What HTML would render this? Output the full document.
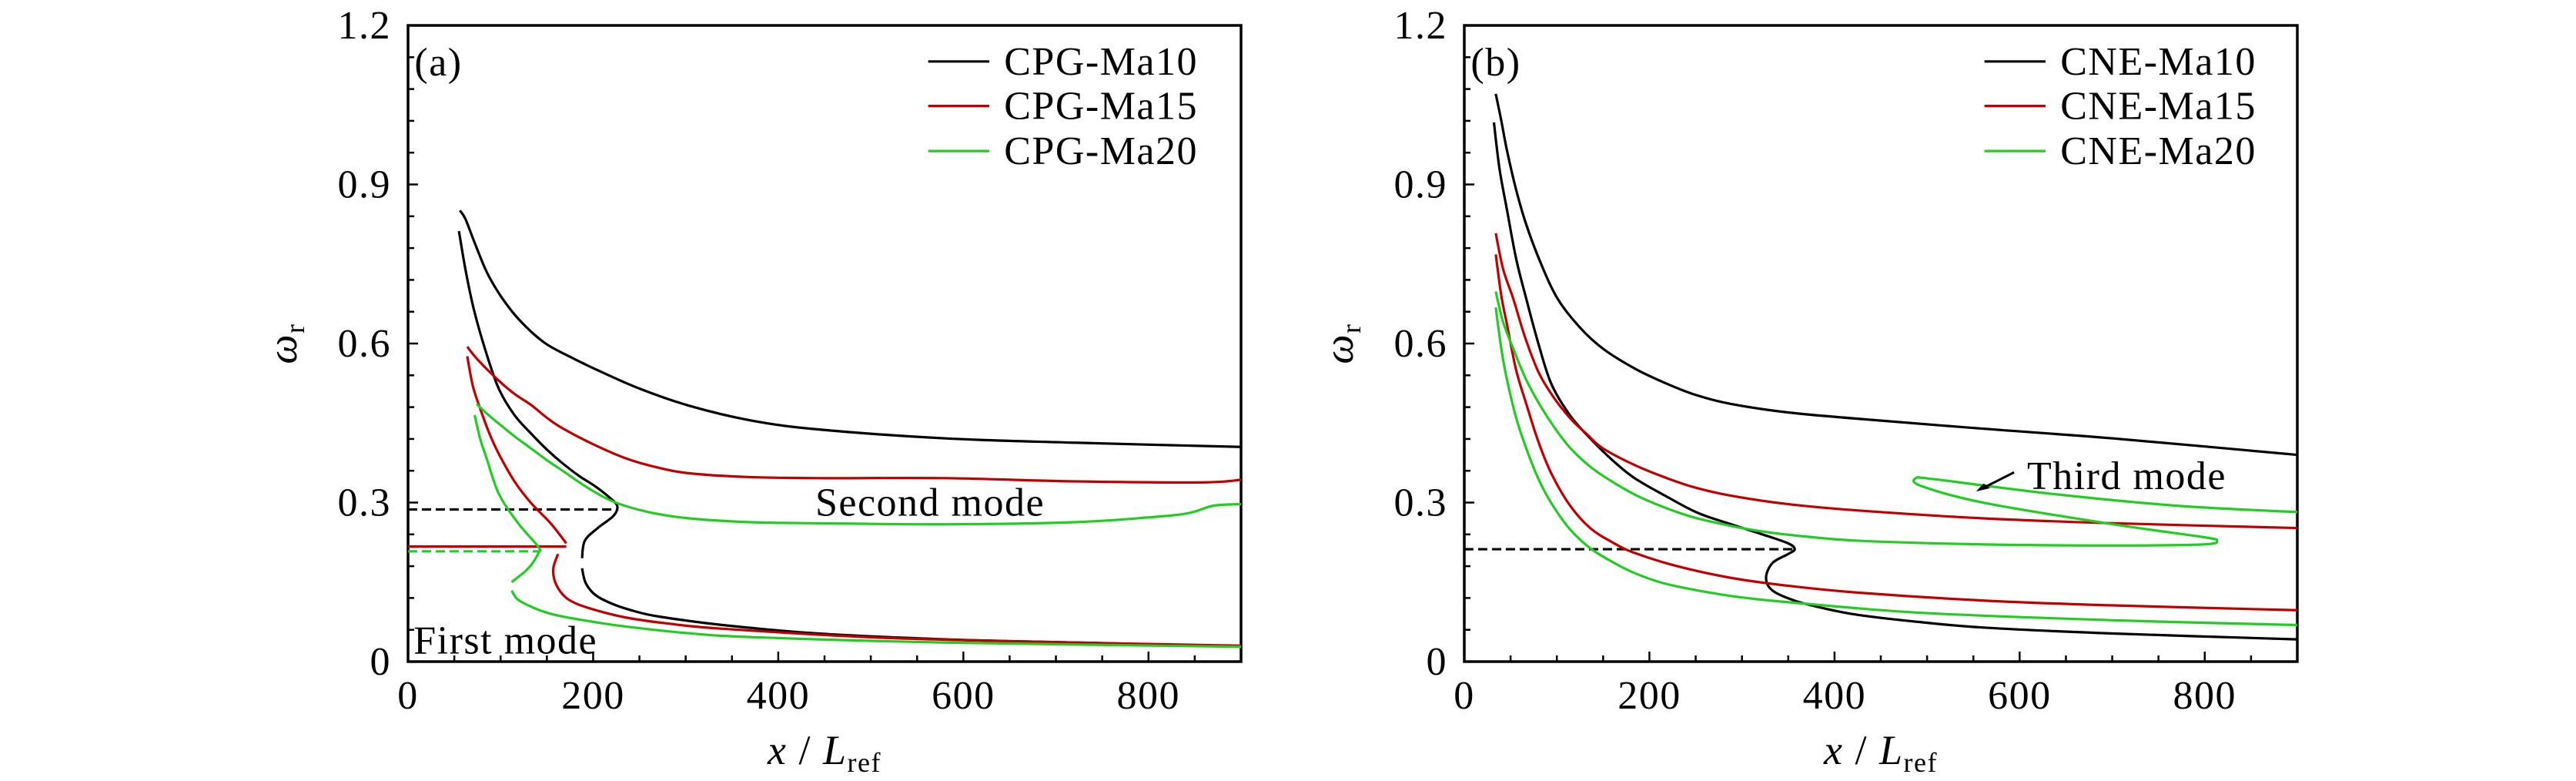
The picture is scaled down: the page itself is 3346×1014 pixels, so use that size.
<!DOCTYPE html>
<html><head><meta charset="utf-8">
<style>
html,body{margin:0;padding:0;background:#fff;}
svg{display:block;}
text{font-family:"Liberation Serif","DejaVu Serif",serif;fill:#000;letter-spacing:1.5px;}
</style></head>
<body>
<svg id="chart" width="3346" height="1014" viewBox="0 0 3346 1014" xmlns="http://www.w3.org/2000/svg"></svg>
<script>
// ---- data ----
const xTicks=[0,200,400,600,800];
const yTicks=[0,0.3,0.6,0.9,1.2];
const yTickLabels=["0","0.3","0.6","0.9","1.2"];
// panel a
const aMa10Up=[[56,0.851],[62,0.835],[72,0.79],[85,0.735],[100,0.69],[120,0.645],[147,0.602],[175,0.575],[202,0.552],[250,0.515],[305,0.482],[370,0.455],[443,0.438],[581,0.421],[719,0.413],[900,0.405]];
const aMa10Lo1=[[55,0.812],[62,0.74],[71,0.665],[84,0.585],[98,0.515],[115,0.465],[133,0.43],[150,0.4],[167,0.374],[185,0.35],[202,0.331],[216,0.312],[226,0.294],[222,0.275],[205,0.252],[191,0.228],[188,0.195]];
const aMa10Lo2=[[188,0.176],[192,0.148],[203,0.125],[222,0.108],[245,0.095],[271,0.085],[340,0.069],[443,0.053],[581,0.042],[719,0.036],[900,0.029]];
const aMa15Up=[[64,0.594],[75,0.57],[98,0.53],[115,0.505],[133,0.484],[150,0.46],[167,0.44],[200,0.41],[236,0.383],[270,0.366],[305,0.355],[370,0.348],[443,0.346],[581,0.346],[719,0.34],[857,0.338],[900,0.343]];
const aMa15Lo1=[[64,0.576],[70,0.52],[78,0.477],[88,0.43],[98,0.392],[115,0.34],[133,0.299],[154,0.261],[171,0.223]];
const aMa15Lo2=[[162,0.203],[157,0.176],[159,0.15],[168,0.125],[181,0.11],[205,0.096],[236,0.083],[280,0.072],[340,0.062],[512,0.045],[719,0.036],[900,0.03]];
const aMa20Up=[[74,0.486],[85,0.468],[98,0.449],[115,0.425],[133,0.402],[150,0.38],[167,0.36],[195,0.327],[223,0.301],[260,0.282],[305,0.27],[370,0.263],[443,0.261],[581,0.259],[719,0.263],[800,0.272],[843,0.28],[870,0.294],[900,0.297]];
const aMa20Lo1=[[72,0.465],[78,0.42],[85,0.383],[98,0.317],[119,0.261],[141,0.216],[141,0.205],[130,0.176],[112,0.15]];
const aMa20Lo2=[[112,0.134],[118,0.118],[130,0.106],[147,0.094],[167,0.085],[200,0.075],[236,0.066],[300,0.054],[374,0.046],[581,0.036],[900,0.028]];
const aDash10=[[0,0.287],[226,0.287]];
const aSolid15=[[0,0.217],[171,0.217]];
const aDash20=[[0,0.208],[141,0.208]];
// panel b
const bMa10Up=[[34,1.071],[40,1.02],[46,0.965],[56,0.89],[67,0.824],[83,0.75],[101,0.684],[125,0.63],[150,0.59],[185,0.552],[219,0.524],[250,0.503],[288,0.486],[350,0.47],[426,0.458],[563,0.439],[701,0.421],[900,0.39]];
const bMa10Lo=[[32,1.017],[38,0.93],[46,0.853],[56,0.76],[67,0.684],[80,0.6],[94,0.524],[114,0.465],[136,0.421],[160,0.38],[184,0.346],[220,0.31],[253,0.28],[290,0.258],[322,0.24],[350,0.223],[357,0.212],[350,0.203],[333,0.186],[326,0.158],[333,0.134],[357,0.115],[390,0.1],[426,0.088],[490,0.075],[563,0.064],[701,0.053],[900,0.042]];
const bMa15Up=[[34,0.808],[42,0.74],[53,0.684],[66,0.61],[81,0.543],[98,0.495],[115,0.458],[133,0.428],[150,0.402],[185,0.37],[219,0.346],[250,0.328],[288,0.313],[350,0.297],[426,0.285],[563,0.27],[701,0.261],[900,0.252]];
const bMa15Lo=[[34,0.768],[40,0.69],[46,0.637],[56,0.55],[67,0.486],[80,0.415],[94,0.355],[114,0.295],[136,0.252],[160,0.225],[184,0.205],[230,0.18],[288,0.158],[350,0.143],[426,0.13],[563,0.115],[701,0.106],[900,0.097]];
const bMa20Up=[[34,0.698],[42,0.64],[53,0.59],[66,0.535],[81,0.486],[98,0.44],[115,0.402],[138,0.365],[163,0.336],[190,0.31],[219,0.289],[250,0.271],[288,0.256],[320,0.246],[357,0.238],[426,0.228],[563,0.221],[701,0.219],[798,0.221],[813,0.228],[798,0.235],[701,0.259],[563,0.299],[494,0.331],[488,0.346],[508,0.344],[632,0.317],[770,0.294],[900,0.282]];
const bMa20Lo=[[34,0.668],[40,0.59],[46,0.533],[56,0.46],[67,0.402],[80,0.345],[94,0.299],[114,0.25],[136,0.214],[160,0.188],[184,0.167],[215,0.148],[253,0.134],[300,0.121],[357,0.111],[494,0.092],[701,0.078],[900,0.069]];
const bDash10=[[0,0.212],[357,0.212]];

const NS="http://www.w3.org/2000/svg";
const svg=document.getElementById('chart');
const BLACK="#000",RED="#c00000",GREEN="#22cc22";
function mk(tag,attrs,parent){const e=document.createElementNS(NS,tag);for(const k in attrs)e.setAttribute(k,attrs[k]);(parent||svg).appendChild(e);return e;}

function panel(x0,id){
  const x1=x0+1082,y0=33,y1=859;
  const sx=v=>x0+v*(x1-x0)/900, sy=v=>y1-v*(y1-y0)/1.2;
  const g=mk('g',{});
  
  
  return {g,sx,sy,x0,x1,y0,y1};
}
function path(P,pts,color,name,dash){
  const p=pts.map(q=>[P.sx(q[0]),P.sy(q[1])]);
  let d='M'+p[0][0]+','+p[0][1];
  for(let i=0;i<p.length-1;i++){
    const a=p[Math.max(i-1,0)],b=p[i],c=p[i+1],e=p[Math.min(i+2,p.length-1)];
    const c1=[b[0]+(c[0]-a[0])/6,b[1]+(c[1]-a[1])/6],c2=[c[0]-(e[0]-b[0])/6,c[1]-(e[1]-b[1])/6];
    d+=' C'+c1[0]+','+c1[1]+' '+c2[0]+','+c2[1]+' '+c[0]+','+c[1];
  }
  const el=mk('path',{d:d,fill:'none',stroke:color,'stroke-width':3.2,'stroke-linejoin':'round'},P.g);
  if(dash)el.setAttribute('stroke-dasharray','12,6');
  
  
}
function axes(P,id,labels,pl){
  const {g,sx,sy,x0,x1,y0,y1}=P;
  const fr=mk('rect',{x:x0,y:y0,width:x1-x0,height:y1-y0,fill:'none',stroke:'#000','stroke-width':3.5},g);
  
  
  for(let v=0;v<=900;v+=50){const L=v%200===0?13:8;mk('line',{x1:sx(v),x2:sx(v),y1:y1,y2:y1-L,stroke:'#000','stroke-width':2.5},g);}
  for(let k=0;k<=20;k++){const v=k*0.06;const L=k%5===0?13:8;mk('line',{x1:x0,x2:x0+L,y1:sy(v),y2:sy(v),stroke:'#000','stroke-width':2.5},g);}
  xTicks.forEach(v=>{const t=mk('text',{x:sx(v),y:920,'font-size':52,'text-anchor':'middle'},g);t.textContent=v;
    
    });
  yTicks.forEach((v,i)=>{const t=mk('text',{x:x0-22,y:sy(v)+17,'font-size':52,'text-anchor':'end'},g);t.textContent=yTickLabels[i];
    
    });
  const xl=mk('text',{x:(x0+x1)/2,y:992,'font-size':54,'text-anchor':'middle'},g);
  xl.innerHTML='<tspan font-style="italic">x</tspan> / <tspan font-style="italic">L</tspan><tspan font-size="36" dy="10">ref</tspan>';
  
  
  const yl=mk('text',{x:0,y:0,'font-size':54,'text-anchor':'middle',transform:`translate(${x0-145},${(y0+y1)/2}) rotate(-90)`},g);
  yl.innerHTML='<tspan font-style="italic">ω</tspan><tspan font-size="36" dy="10">r</tspan>';
  
  
  const pt=mk('text',{x:sx(7),y:sy(1.13)+17,'font-size':52},g);pt.textContent=pl;
  
  
  const cols=[BLACK,RED,GREEN],ys=[1.132,1.048,0.963];
  labels.forEach((s,i)=>{
    const ln=mk('line',{x1:sx(562),x2:sx(628),y1:sy(ys[i]),y2:sy(ys[i]),stroke:cols[i],'stroke-width':3.2},g);
    
    
    const t=mk('text',{x:sx(644),y:sy(ys[i])+17,'font-size':52},g);t.textContent=s;
    
    
  });
}
// Panel a
const A=panel(530,'a');
axes(A,'a',['CPG-Ma10','CPG-Ma15','CPG-Ma20'],'(a)');
path(A,aDash10,BLACK,'ma10-dash-line',true);
path(A,aSolid15,RED,'ma15-level-line',false);
path(A,aDash20,GREEN,'ma20-dash-line',true);
path(A,aMa10Up,BLACK,'cpg-ma10-upper');
path(A,aMa10Lo1,BLACK,'cpg-ma10-lower-1');
path(A,aMa10Lo2,BLACK,'cpg-ma10-lower-2');
path(A,aMa15Up,RED,'cpg-ma15-upper');
path(A,aMa15Lo1,RED,'cpg-ma15-lower-1');
path(A,aMa15Lo2,RED,'cpg-ma15-lower-2');
path(A,aMa20Up,GREEN,'cpg-ma20-upper');
path(A,aMa20Lo1,GREEN,'cpg-ma20-lower-1');
path(A,aMa20Lo2,GREEN,'cpg-ma20-lower-2');
let t=mk('text',{x:A.sx(440),y:A.sy(0.3)+17,'font-size':52},A.g);t.textContent='Second mode';


t=mk('text',{x:A.sx(6),y:A.sy(0.04)+17,'font-size':52},A.g);t.textContent='First mode';


// Panel b
const B=panel(1902,'b');
axes(B,'b',['CNE-Ma10','CNE-Ma15','CNE-Ma20'],'(b)');
path(B,bDash10,BLACK,'ma10-dash-line',true);
path(B,bMa10Up,BLACK,'cne-ma10-upper');
path(B,bMa10Lo,BLACK,'cne-ma10-lower');
path(B,bMa15Up,RED,'cne-ma15-upper');
path(B,bMa15Lo,RED,'cne-ma15-lower');
path(B,bMa20Up,GREEN,'cne-ma20-upper');
path(B,bMa20Lo,GREEN,'cne-ma20-lower');
t=mk('text',{x:B.sx(608),y:B.sy(0.35)+17,'font-size':52},B.g);t.textContent='Third mode';


const ar=mk('line',{x1:B.sx(594),y1:B.sy(0.357),x2:B.sx(560),y2:B.sy(0.327),stroke:'#000','stroke-width':3},B.g);


const ah=mk('polygon',{points:`${B.sx(553)},${B.sy(0.321)} ${B.sx(568)},${B.sy(0.327)} ${B.sx(561)},${B.sy(0.336)}`,fill:'#000'},B.g);


</script>
</body></html>
